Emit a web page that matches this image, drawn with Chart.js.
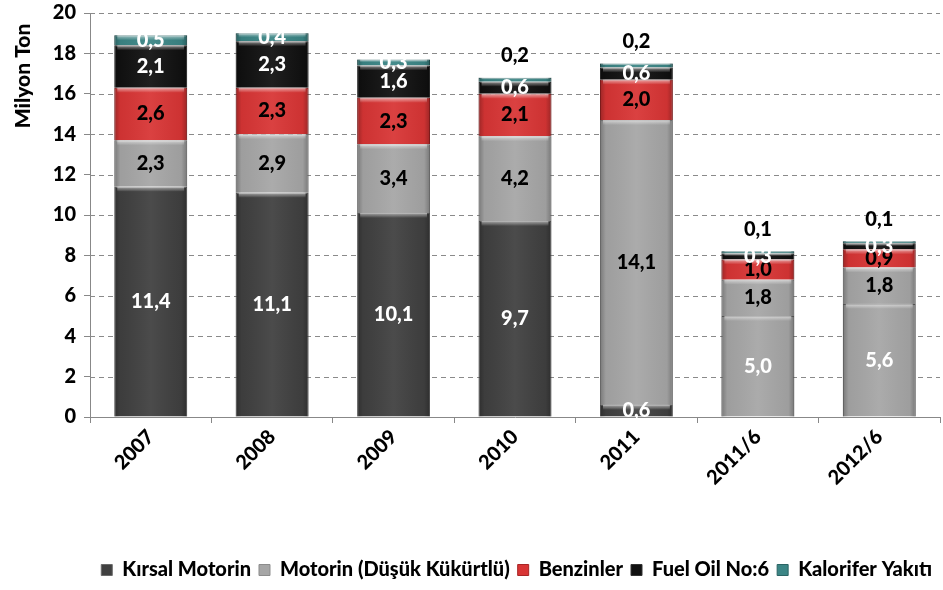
<!DOCTYPE html>
<html lang="tr">
<head>
  <meta charset="UTF-8">
  <title>Milyon Ton</title>
  <script src="https://cdn.jsdelivr.net/npm/chart.js"></script>
  <style>
    html, body { margin: 0; padding: 0; background: #ffffff; }
    #wrap { width: 943px; height: 590px; }
  </style>
</head>
<body>
  <div id="wrap"><canvas id="chart" width="943" height="590"></canvas></div>

  <script>
    const years = ['2007', '2008', '2009', '2010', '2011', '2011/6', '2012/6'];
    const kirsalMotorin = [11.4, 11.1, 10.1, 9.7, 0.6, 5.0, 5.6];
    const motorinDusuk = [2.3, 2.9, 3.4, 4.2, 14.1, 1.8, 1.8];
    const benzinler = [2.6, 2.3, 2.3, 2.1, 2.0, 1.0, 0.9];
    const fuelOil = [2.1, 2.3, 1.6, 0.6, 0.6, 0.3, 0.3];
    const kalorifer = [0.5, 0.4, 0.3, 0.2, 0.2, 0.1, 0.1];
    const yTicks = [0, 2, 4, 6, 8, 10, 12, 14, 16, 18, 20];

    const fontFam = "Lato, 'Open Sans', sans-serif";
    const dark = '#404040', light = '#a6a6a6';

    // label colour per dataset
    const labelColor = ['#ffffff', '#000000', '#000000', '#ffffff', '#ffffff'];

    // fake bevel: darker sides + light strip on top of each segment
    const bevel = {
      id: 'bevel',
      afterDatasetsDraw(chart) {
        const ctx = chart.ctx;
        ctx.save();
        chart.data.datasets.forEach((ds, di) => {
          chart.getDatasetMeta(di).data.forEach((bar, i) => {
            if (!ds.data[i]) return;
            const w = bar.width, l = bar.x - w / 2;
            const top = bar.y, h = bar.base - bar.y;
            const g = ctx.createLinearGradient(l, 0, l + w, 0);
            g.addColorStop(0, 'rgba(0,0,0,0.28)');
            g.addColorStop(0.08, 'rgba(0,0,0,0.05)');
            g.addColorStop(0.5, 'rgba(255,255,255,0.06)');
            g.addColorStop(0.92, 'rgba(0,0,0,0.05)');
            g.addColorStop(1, 'rgba(0,0,0,0.28)');
            ctx.fillStyle = g;
            ctx.fillRect(l, top, w, h);
            const sh = Math.min(5, h / 2);
            const g2 = ctx.createLinearGradient(0, top, 0, top + sh);
            g2.addColorStop(0, 'rgba(255,255,255,0.55)');
            g2.addColorStop(1, 'rgba(255,255,255,0)');
            ctx.fillStyle = g2;
            ctx.fillRect(l + 3, top, w - 6, sh);
          });
        });
        ctx.restore();
      }
    };

    const barLabels = {
      id: 'barLabels',
      afterDatasetsDraw(chart) {
        const ctx = chart.ctx;
        ctx.save();
        ctx.font = '900 20px ' + fontFam;
        ctx.textAlign = 'center';
        ctx.textBaseline = 'middle';
        chart.data.datasets.forEach((ds, di) => {
          const meta = chart.getDatasetMeta(di);
          meta.data.forEach((bar, i) => {
            const v = ds.data[i];
            if (!v) return;
            const txt = v.toFixed(1).replace('.', ',');
            let y = (bar.y + bar.base) / 2;
            let col = labelColor[di];
            if (di === 4 && i >= 3) {
              y = bar.y - 22;
              col = '#000000';
            }
            ctx.fillStyle = col;
            ctx.fillText(txt, bar.x, y);
          });
        });
        ctx.restore();
      }
    };

    const yTitle = {
      id: 'yTitle',
      afterDraw(chart) {
        const ctx = chart.ctx;
        ctx.save();
        ctx.translate(23, 76);
        ctx.rotate(-Math.PI / 2);
        ctx.font = '900 21px ' + fontFam;
        ctx.fillStyle = '#000';
        ctx.textAlign = 'center';
        ctx.textBaseline = 'middle';
        ctx.fillText('Milyon Ton', 0, 0);
        ctx.restore();
      }
    };

    const dashGrid = {
      id: 'dashGrid',
      beforeDatasetsDraw(chart) {
        const { ctx, chartArea, scales: { y } } = chart;
        ctx.save();
        ctx.strokeStyle = '#8a8a8a';
        ctx.setLineDash([5, 4]);
        ctx.lineWidth = 1;
        yTicks.forEach(v => {
          if (v === 0) return;
          const py = Math.round(y.getPixelForValue(v)) + 0.5;
          ctx.beginPath();
          ctx.moveTo(chartArea.left, py);
          ctx.lineTo(chartArea.right, py);
          ctx.stroke();
        });
        ctx.restore();
      }
    };

    const ctx = document.getElementById('chart').getContext('2d');
    new Chart(ctx, {
      type: 'bar',
      data: {
        labels: years,
        datasets: [{
          label: 'Kırsal Motorin',
          data: kirsalMotorin,
          backgroundColor: [dark, dark, dark, dark, dark, light, light],
          borderColor: '#6a6a6a'
        }, {
          label: 'Motorin (Düşük Kükürtlü)',
          data: motorinDusuk,
          backgroundColor: light,
          borderColor: '#8c8c8c'
        }, {
          label: 'Benzinler',
          data: benzinler,
          backgroundColor: '#d83535',
          borderColor: '#a82525'
        }, {
          label: 'Fuel Oil No:6',
          data: fuelOil,
          backgroundColor: '#111111',
          borderColor: '#333333'
        }, {
          label: 'Kalorifer Yakıtı',
          data: kalorifer,
          backgroundColor: '#3b8585',
          borderColor: '#2a6464'
        }]
      },
      options: {
        responsive: false,
        animation: false,
        datasets: {
          bar: { barPercentage: 0.6, categoryPercentage: 1, borderWidth: 1 }
        },
        layout: { padding: { top: 0, right: 3, left: 0, bottom: 0 } },
        scales: {
          x: {
            stacked: true,
            grid: { display: true, drawOnChartArea: false, offset: true, color: '#888', tickLength: 6 },
            border: { color: '#888' },
            ticks: {
              color: '#000',
              font: { family: fontFam, size: 20, weight: '900' },
              maxRotation: 45, minRotation: 45,
              padding: 2
            },
            afterFit(scale) { scale.height = 135; }
          },
          y: {
            stacked: true,
            min: 0, max: 20,
            afterBuildTicks(scale) { scale.ticks = yTicks.map(v => ({ value: v })); },
            grid: { drawOnChartArea: false, color: '#888', tickLength: 6 },
            border: { color: '#888' },
            ticks: {
              color: '#000',
              font: { family: fontFam, size: 20, weight: '900' },
              padding: 8
            },
            afterFit(scale) { scale.width = 90; scale.paddingTop = 13; }
          }
        },
        plugins: {
          legend: {
            position: 'bottom',
            align: 'end',
            labels: {
              color: '#000',
              font: { family: fontFam, size: 20, weight: '900' },
              boxWidth: 11, boxHeight: 11,
              padding: 8
            }
          },
          tooltip: { enabled: false }
        }
      },
      plugins: [dashGrid, bevel, barLabels, yTitle]
    });
  </script>
</body>
</html>
